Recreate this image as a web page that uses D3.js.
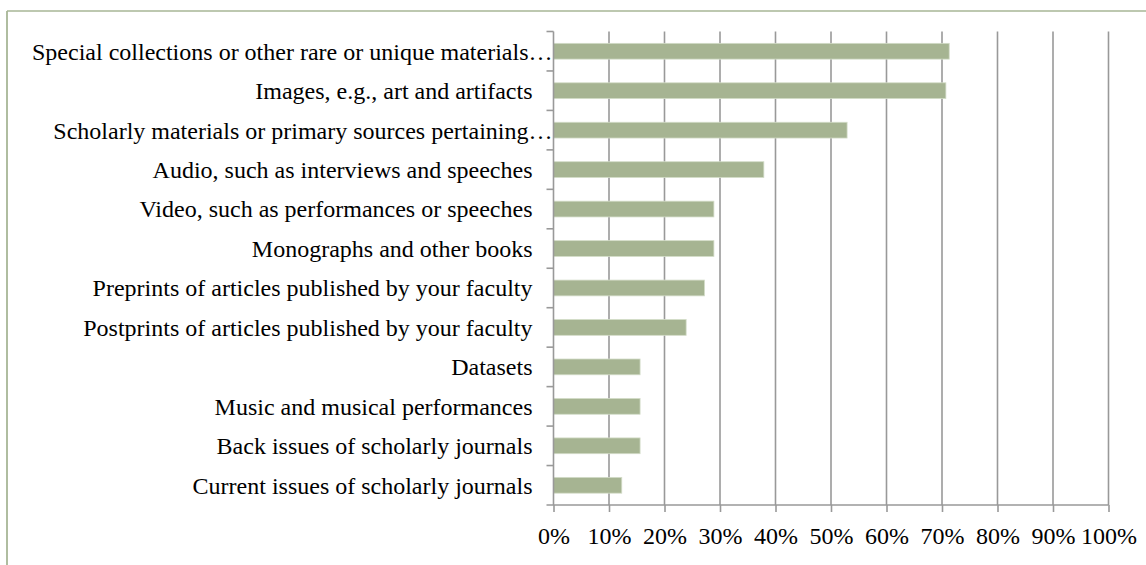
<!DOCTYPE html>
<html>
<head>
<meta charset="utf-8">
<script src="https://cdn.jsdelivr.net/npm/d3@7"></script>
<style>
  html, body { margin: 0; padding: 0; background: #fff; }
  svg { display: block; }
  text { font-family: "Liberation Serif", "Times New Roman", serif; fill: #000; }
</style>
</head>
<body>
<svg id="chart" width="1146" height="565"></svg>
<script>
const categories = [
  "Special collections or other rare or unique materials…",
  "Images, e.g., art and artifacts",
  "Scholarly materials or primary sources pertaining…",
  "Audio, such as interviews and speeches",
  "Video, such as performances or speeches",
  "Monographs and other books",
  "Preprints of articles published by your faculty",
  "Postprints of articles published by your faculty",
  "Datasets",
  "Music and musical performances",
  "Back issues of scholarly journals",
  "Current issues of scholarly journals"
];
const values = [71.3, 70.7, 52.9, 37.9, 28.9, 28.9, 27.2, 23.9, 15.6, 15.6, 15.6, 12.3];
const xTicks = [0, 10, 20, 30, 40, 50, 60, 70, 80, 90, 100];

const svg = d3.select("#chart");
const W = 1146, H = 565;
const margin = { left: 553.5, right: 37.5, top: 31.5, bottom: 60 };
const fontSize = 24;

// outer frame (top and left edges visible)
svg.append("line").attr("x1", 7).attr("x2", W).attr("y1", 11).attr("y2", 11)
  .attr("stroke", "#a7b696").attr("stroke-width", 1.5);
svg.append("line").attr("x1", 7).attr("x2", 7).attr("y1", 11).attr("y2", H)
  .attr("stroke", "#a7b696").attr("stroke-width", 1.8);

const x = d3.scaleLinear().domain([0, 100]).range([margin.left, W - margin.right]);
const y = d3.scaleBand().domain(categories).range([margin.top, H - margin.bottom]).paddingInner(0.6).paddingOuter(0.3);

const gridColor = "#999999";

// gridlines
svg.append("g").selectAll("line").data(xTicks.slice(1)).join("line")
  .attr("x1", d => x(d)).attr("x2", d => x(d))
  .attr("y1", margin.top).attr("y2", H - margin.bottom)
  .attr("stroke", gridColor).attr("stroke-width", 1.6);

// bars
svg.append("g").selectAll("rect").data(values).join("rect")
  .attr("x", x(0))
  .attr("y", (d, i) => y(categories[i]))
  .attr("width", d => x(d) - x(0))
  .attr("height", y.bandwidth())
  .attr("fill", "#a6b492")
  .attr("stroke", "#d3dcc8").attr("stroke-width", 0.8);

// x axis
const xAxis = d3.axisBottom(x).tickValues(xTicks).tickFormat(d => d + "%").tickSize(7).tickPadding(15);
const gx = svg.append("g").attr("transform", `translate(0,${H - margin.bottom})`).call(xAxis);
gx.select(".domain").attr("stroke", gridColor).attr("stroke-width", 1.6).attr("d", `M${x(0) - 7},0H${x(100)}`);
gx.selectAll(".tick line").attr("stroke", gridColor).attr("stroke-width", 1.6);
gx.selectAll(".tick text").attr("font-size", fontSize).attr("font-family", "Liberation Serif").attr("fill", "#000");

// y axis line + boundary ticks
const step = (H - margin.bottom - margin.top) / categories.length;
svg.append("line").attr("x1", x(0)).attr("x2", x(0)).attr("y1", margin.top).attr("y2", H - margin.bottom)
  .attr("stroke", gridColor).attr("stroke-width", 1.6);
svg.append("g").selectAll("line").data(d3.range(categories.length)).join("line")
  .attr("x1", x(0) - 7).attr("x2", x(0))
  .attr("y1", i => margin.top + i * step).attr("y2", i => margin.top + i * step)
  .attr("stroke", gridColor).attr("stroke-width", 1.6);

// category labels
svg.append("g").selectAll("text").data(categories).join("text")
  .attr("x", d => d.endsWith("…") ? x(0) - 1 : x(0) - 21)
  .attr("y", d => y(d) + y.bandwidth() / 2)
  .attr("dy", "0.35em")
  .attr("text-anchor", "end")
  .attr("font-size", fontSize)
  .text(d => d);
</script>
</body>
</html>
